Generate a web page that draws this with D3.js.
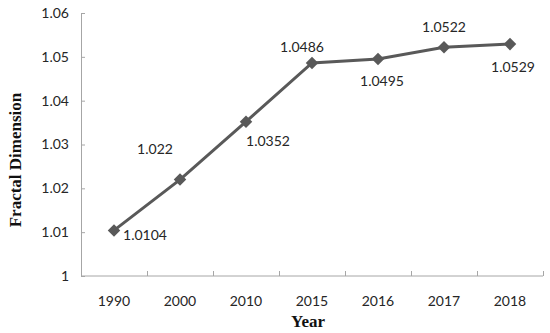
<!DOCTYPE html>
<html>
<head>
<meta charset="utf-8">
<script src="https://cdn.jsdelivr.net/npm/d3@7"></script>
<style>
  body { margin: 0; background: #fff; }
  svg { display: block; }
</style>
</head>
<body>
<div id="chart"></div>
<script>
// values
var years = ["1990", "2000", "2010", "2015", "2016", "2017", "2018"];
var fd = [1.0104, 1.022, 1.0352, 1.0486, 1.0495, 1.0522, 1.0529];
var labelText = ["1.0104", "1.022", "1.0352", "1.0486", "1.0495", "1.0522", "1.0529"];
var yTicks = [1, 1.01, 1.02, 1.03, 1.04, 1.05, 1.06];
// label offsets from each marker (dx, dy), as placed in the original
var labelPos = [[31, 5], [-25, -31], [22, 19], [-10, -16], [4, 22], [0, -20], [3, 23]];

var W = 550, H = 333;
var lineColor = "#595959";
var axisColor = "#a6a6a6";

var svg = d3.select("#chart").append("svg")
    .attr("width", W)
    .attr("height", H);

var x = d3.scaleBand().domain(years).range([81, 543]).padding(0);
var y = d3.scaleLinear().domain([1, 1.06]).range([276, 13]);

// y axis
var yAxis = svg.append("g")
    .attr("transform", "translate(81,0)")
    .call(d3.axisLeft(y).tickValues(yTicks).tickSizeInner(-4).tickSizeOuter(0)
        .tickPadding(12).tickFormat(d => d3.format("")(+d.toFixed(2))));
yAxis.select(".domain").attr("stroke", axisColor);
yAxis.selectAll(".tick line").attr("stroke", axisColor);
yAxis.selectAll(".tick text")
    .attr("fill", "#262626")
    .style("font-family", "Lato, 'Open Sans', sans-serif")
    .style("font-size", "14px");

// x axis, ticks sit between categories
var xAxisG = svg.append("g").attr("transform", "translate(0,276)");
xAxisG.append("line")
    .attr("x1", 81).attr("x2", 543)
    .attr("stroke", axisColor);
var bounds = years.map(d => x(d)).concat([x.range()[1]]);
xAxisG.selectAll(".xt")
    .data(bounds.slice(1))
    .join("line")
    .attr("class", "xt")
    .attr("x1", d => d + 0.5).attr("x2", d => d + 0.5)
    .attr("y1", 0).attr("y2", -5)
    .attr("stroke", axisColor);
xAxisG.selectAll(".xl")
    .data(years)
    .join("text")
    .attr("class", "xl")
    .attr("x", d => x(d) + x.bandwidth() / 2)
    .attr("y", 30)
    .attr("text-anchor", "middle")
    .attr("fill", "#262626")
    .style("font-family", "Lato, 'Open Sans', sans-serif")
    .style("font-size", "14px")
    .text(d => d);

// axis titles
svg.append("text")
    .attr("x", 308).attr("y", 327)
    .attr("text-anchor", "middle")
    .style("font-family", "'Liberation Serif', 'Times New Roman', serif")
    .style("font-weight", "bold")
    .style("font-size", "17px")
    .attr("fill", "#111")
    .text("Year");
svg.append("text")
    .attr("transform", "translate(21,160) rotate(-90)")
    .attr("text-anchor", "middle")
    .style("font-family", "'Liberation Serif', 'Times New Roman', serif")
    .style("font-weight", "bold")
    .style("font-size", "17px")
    .attr("fill", "#111")
    .text("Fractal Dimension");

var pts = years.map((d, i) => ({ year: d, v: fd[i], i: i }));
var cx = d => x(d.year) + x.bandwidth() / 2;

svg.append("path")
    .datum(pts)
    .attr("fill", "none")
    .attr("stroke", lineColor)
    .attr("stroke-width", 3)
    .attr("d", d3.line().x(cx).y(d => y(d.v)));

svg.selectAll(".mark")
    .data(pts)
    .join("path")
    .attr("class", "mark")
    .attr("transform", d => `translate(${cx(d)},${y(d.v)})`)
    .attr("d", d3.symbol().type(d3.symbolDiamond2).size(100))
    .attr("fill", lineColor);

svg.selectAll(".lab")
    .data(pts)
    .join("text")
    .attr("class", "lab")
    .attr("x", d => cx(d) + labelPos[d.i][0])
    .attr("y", d => y(d.v) + labelPos[d.i][1] + 5)
    .attr("text-anchor", "middle")
    .attr("fill", "#262626")
    .style("font-family", "Lato, 'Open Sans', sans-serif")
    .style("font-size", "14px")
    .text(d => labelText[d.i]);
</script>
</body>
</html>
